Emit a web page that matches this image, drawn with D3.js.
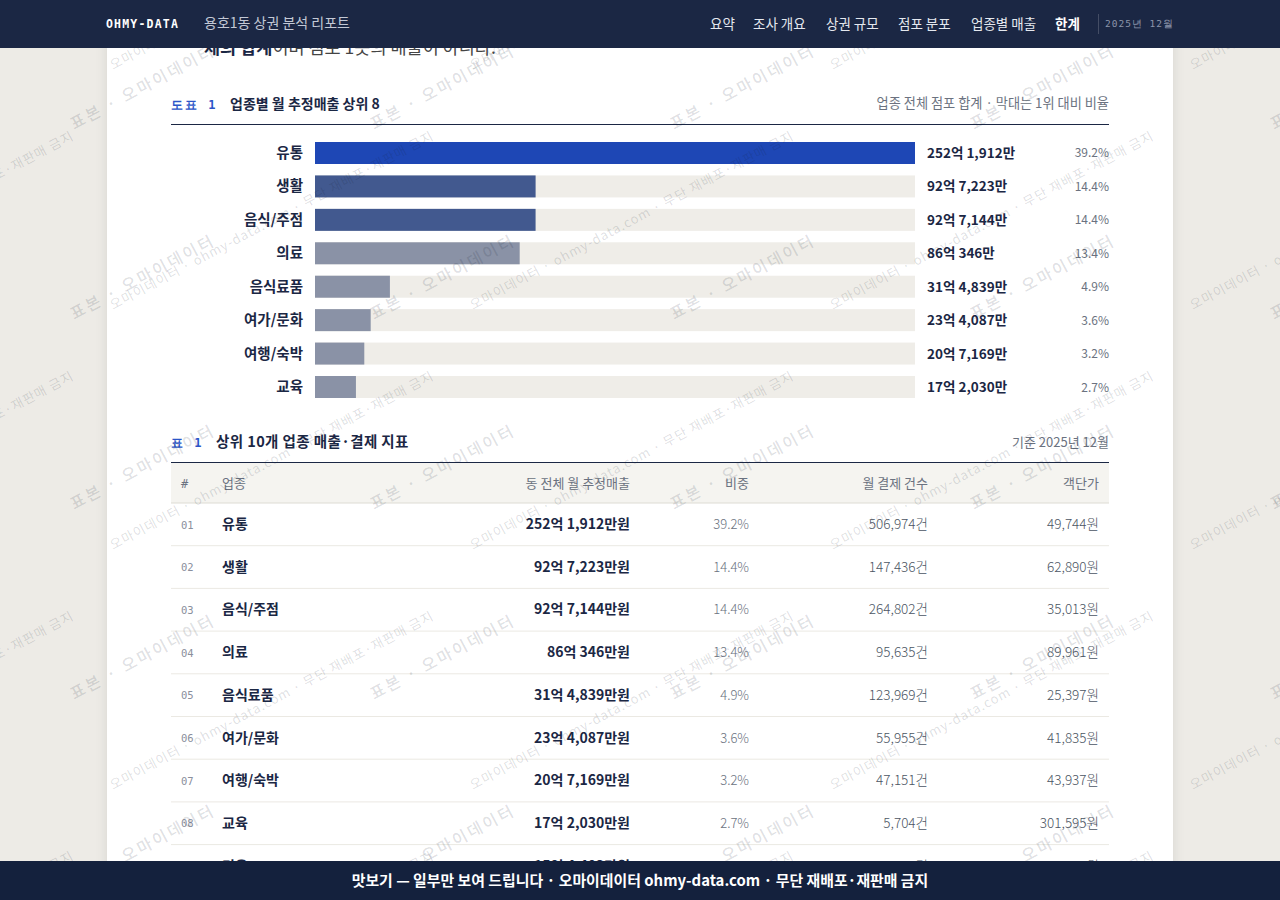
<!DOCTYPE html>
<html><head><meta charset="utf-8">
<script src="https://cdn.jsdelivr.net/npm/d3@7/dist/d3.min.js"></script>
<style>
html,body{margin:0;padding:0;background:#edebe6;overflow:hidden}
svg{display:block}
text{font-family:"Noto Sans CJK KR","Noto Sans",sans-serif}
.mono{font-family:"DejaVu Sans Mono",monospace}
</style></head><body>
<svg id="c" width="1280" height="900"></svg>
<script>
// ---------- data ----------
const navItems = ["요약", "조사 개요", "상권 규모", "점포 분포", "업종별 매출", "한계"];
const barCategories = ["유통", "생활", "음식/주점", "의료", "음식료품", "여가/문화", "여행/숙박", "교육"];
const barValuesMan = [2521912, 927223, 927144, 860346, 314839, 234087, 207169, 172030]; // 만원
const barShares = [39.2, 14.4, 14.4, 13.4, 4.9, 3.6, 3.2, 2.7];

const tableHeaders = ["#", "업종", "동 전체 월 추정매출", "비중", "월 결제 건수", "객단가"];
const tableCategories = ["유통", "생활", "음식/주점", "의료", "음식료품", "여가/문화", "여행/숙박", "교육", "미용"];
const tableSalesMan = [2521912, 927223, 927144, 860346, 314839, 234087, 207169, 172030, 154403];
const tableShares = [39.2, 14.4, 14.4, 13.4, 4.9, 3.6, 3.2, 2.7, 2.4];
const tableCounts = [506974, 147436, 264802, 95635, 123969, 55955, 47151, 5704, 21806];
const tablePrices = [49744, 62890, 35013, 89961, 25397, 41835, 43937, 301595, 70807];

const wmMain = "표본 · 오마이데이터";
const wmSub = "오마이데이터 · ohmy-data.com · 무단 재배포·재판매 금지";

// ---------- helpers ----------
const comma = d3.format(",");
const fmtEokMan = v => `${Math.floor(v / 10000)}억 ${comma(v % 10000)}만`;

const svg = d3.select("#c");
const NAVY = "#1b2744", INK = "#1b2744", MUTED = "#6b7280";

// background + page
const defs = svg.append("defs");
const f = defs.append("filter").attr("id", "sh").attr("x", "-5%").attr("y", "-5%").attr("width", "110%").attr("height", "110%");
f.append("feDropShadow").attr("dx", 0).attr("dy", 0).attr("stdDeviation", 6).attr("flood-color", "#000").attr("flood-opacity", 0.10);
svg.append("rect").attr("width", 1280).attr("height", 900).attr("fill", "#edebe6");
svg.append("rect").attr("x", 107).attr("y", -20).attr("width", 1066).attr("height", 940).attr("fill", "#fff").attr("filter", "url(#sh)");

// intro text partially under header
const intro = svg.append("text").attr("x", 204).attr("y", 54).attr("font-size", 17.5).attr("fill", "#444");
intro.append("tspan").attr("font-weight", 700).attr("fill", INK).text("체의 합계");
intro.append("tspan").text("이며 점포 1곳의 매출이 아니다.");

// ---------- chart ----------
const L = 171, R = 1109;
svg.append("text").attr("class", "mono").attr("x", L).attr("y", 109).attr("font-size", 12).attr("font-weight", 700)
  .attr("letter-spacing", 2).attr("fill", "#2b55c8").text("도표 1");
svg.append("text").attr("x", 230).attr("y", 109).attr("font-size", 14).attr("font-weight", 700).attr("fill", INK).text("업종별 월 추정매출 상위 8");
svg.append("text").attr("x", R).attr("y", 108).attr("text-anchor", "end").attr("font-size", 13.2).attr("fill", MUTED)
  .text("업종 전체 점포 합계 · 막대는 1위 대비 비율");
svg.append("line").attr("x1", L).attr("x2", R).attr("y1", 124.5).attr("y2", 124.5).attr("stroke", NAVY).attr("stroke-width", 1.2);

const yBar = d3.scaleBand().domain(barCategories).range([142, 398]).paddingInner(0.342).paddingOuter(0);
const xBar = d3.scaleLinear().domain([0, d3.max(barValuesMan)]).range([315, 915]);
const barColor = i => i === 0 ? "#1e47b5" : (i < 3 ? "#42598f" : "#8a92a6");

const rows = svg.append("g").selectAll("g").data(barCategories).join("g");
rows.append("rect").attr("x", xBar(0)).attr("y", d => yBar(d)).attr("width", xBar.range()[1] - xBar(0))
  .attr("height", yBar.bandwidth()).attr("fill", "#efede8");
rows.append("rect").attr("x", xBar(0)).attr("y", d => yBar(d))
  .attr("width", (d, i) => xBar(barValuesMan[i]) - xBar(0)).attr("height", yBar.bandwidth()).attr("fill", (d, i) => barColor(i));
rows.append("text").attr("x", 303).attr("y", d => yBar(d) + yBar.bandwidth() / 2 + 5).attr("text-anchor", "end")
  .attr("font-size", 14.5).attr("font-weight", 600).attr("fill", INK).text(d => d);
rows.append("text").attr("x", 927).attr("y", d => yBar(d) + yBar.bandwidth() / 2 + 5)
  .attr("font-size", 13.5).attr("font-weight", 700).attr("fill", INK).text((d, i) => fmtEokMan(barValuesMan[i]));
rows.append("text").attr("x", R).attr("y", d => yBar(d) + yBar.bandwidth() / 2 + 4.5).attr("text-anchor", "end")
  .attr("font-size", 12).attr("fill", MUTED).text((d, i) => barShares[i].toFixed(1) + "%");

// ---------- table ----------
svg.append("text").attr("class", "mono").attr("x", L).attr("y", 447).attr("font-size", 12).attr("font-weight", 700)
  .attr("letter-spacing", 2).attr("fill", "#2b55c8").text("표 1");
svg.append("text").attr("x", 216).attr("y", 447).attr("font-size", 14.5).attr("letter-spacing", 0.4).attr("font-weight", 700)
  .attr("fill", INK).text("상위 10개 업종 매출·결제 지표");
svg.append("text").attr("x", R).attr("y", 447).attr("text-anchor", "end").attr("font-size", 13).attr("fill", MUTED).text("기준 2025년 12월");
svg.append("line").attr("x1", L).attr("x2", R).attr("y1", 462.5).attr("y2", 462.5).attr("stroke", NAVY).attr("stroke-width", 1.2);
svg.append("rect").attr("x", L).attr("y", 463).attr("width", R - L).attr("height", 40).attr("fill", "#f5f4f0");
svg.append("line").attr("x1", L).attr("x2", R).attr("y1", 503).attr("y2", 503).attr("stroke", "#dddbd4").attr("stroke-width", 1.2);

const colX = [181, 222, 630, 749, 928, 1099];
const colAnchor = ["start", "start", "end", "end", "end", "end"];
svg.append("g").selectAll("text").data(tableHeaders).join("text")
  .attr("class", (d, i) => i === 0 ? "mono" : null)
  .attr("x", (d, i) => colX[i]).attr("y", 488).attr("text-anchor", (d, i) => colAnchor[i])
  .attr("font-size", (d, i) => i === 0 ? 12 : 13).attr("fill", MUTED).text(d => d);

const yRow = d3.scaleBand().domain(d3.range(tableCategories.length)).range([503, 503 + 42.7 * tableCategories.length]);
const trs = svg.append("g").selectAll("g").data(tableCategories).join("g")
  .attr("transform", (d, i) => `translate(0,${yRow(i)})`);
trs.append("line").attr("x1", L).attr("x2", R).attr("y1", yRow.bandwidth()).attr("y2", yRow.bandwidth())
  .attr("stroke", "#ebe9e3").attr("stroke-width", 1);
trs.append("text").attr("class", "mono").attr("x", colX[0]).attr("y", 25.5).attr("font-size", 10.5).attr("fill", "#8a8f9c")
  .text((d, i) => String(i + 1).padStart(2, "0"));
trs.append("text").attr("x", colX[1]).attr("y", 26).attr("font-size", 14).attr("font-weight", 700).attr("fill", INK).text(d => d);
trs.append("text").attr("x", colX[2]).attr("y", 26).attr("text-anchor", "end").attr("font-size", 14).attr("font-weight", 700)
  .attr("fill", INK).text((d, i) => fmtEokMan(tableSalesMan[i]) + "원");
trs.append("text").attr("x", colX[3]).attr("y", 26).attr("text-anchor", "end").attr("font-size", 13).attr("font-weight", 300)
  .attr("fill", MUTED).text((d, i) => tableShares[i].toFixed(1) + "%");
trs.append("text").attr("x", colX[4]).attr("y", 26).attr("text-anchor", "end").attr("font-size", 13.5).attr("font-weight", 300)
  .attr("fill", "#4b5563").text((d, i) => comma(tableCounts[i]) + "건");
trs.append("text").attr("x", colX[5]).attr("y", 26).attr("text-anchor", "end").attr("font-size", 13.5).attr("font-weight", 300)
  .attr("fill", "#4b5563").text((d, i) => comma(tablePrices[i]) + "원");

// ---------- watermark ----------
const wm = svg.append("g").attr("pointer-events", "none").attr("fill", "rgba(20,30,50,0.15)");
const wm1 = [];
for (let i = -1; i <= 4; i++) for (let j = 0; j <= 4; j++) wm1.push([74 + 300 * i, 130 + 190 * j]);
wm.selectAll("text.w1").data(wm1).join("text").attr("class", "w1")
  .attr("x", d => d[0]).attr("y", d => d[1]).attr("transform", d => `rotate(-28,${d[0]},${d[1]})`)
  .attr("font-size", 16).attr("font-weight", 500).attr("letter-spacing", 2.5).text(wmMain);
const wm2 = [];
for (let i = -1; i <= 3; i++) for (let j = 0; j <= 4; j++) wm2.push([113 + 360 * i, 70 + 240 * j]);
wm.selectAll("text.w2").data(wm2).join("text").attr("class", "w2")
  .attr("x", d => d[0]).attr("y", d => d[1]).attr("transform", d => `rotate(-28,${d[0]},${d[1]})`)
  .attr("font-size", 13).attr("letter-spacing", 1).text(wmSub);

// ---------- header ----------
svg.append("rect").attr("width", 1280).attr("height", 48).attr("fill", "#1b2744");
svg.append("text").attr("class", "mono").attr("x", 106).attr("y", 28).attr("font-size", 11.5).attr("font-weight", 700)
  .attr("letter-spacing", 1.2).attr("fill", "#fff").text("OHMY-DATA");
svg.append("text").attr("x", 204).attr("y", 28).attr("font-size", 14).attr("fill", "#c3c9d6").text("용호1동 상권 분석 리포트");
const navX = [710, 753, 826, 898, 971, 1055];
svg.append("g").selectAll("text").data(navItems).join("text")
  .attr("x", (d, i) => navX[i]).attr("y", 29).attr("font-size", 13.5)
  .attr("font-weight", (d, i) => i === navItems.length - 1 ? 700 : 400)
  .attr("fill", (d, i) => i === navItems.length - 1 ? "#fff" : "#e4e8ef").text(d => d);
svg.append("line").attr("x1", 1098.5).attr("x2", 1098.5).attr("y1", 14).attr("y2", 34).attr("stroke", "rgba(255,255,255,0.18)");
svg.append("text").attr("class", "mono").attr("x", 1105).attr("y", 27).attr("font-size", 9.5).attr("letter-spacing", 1)
  .attr("fill", "#8c95aa").text("2025년 12월");

// ---------- footer ----------
svg.append("rect").attr("y", 861).attr("width", 1280).attr("height", 39).attr("fill", "#14213d");
svg.append("text").attr("x", 640).attr("y", 886).attr("text-anchor", "middle").attr("font-size", 14.9).attr("font-weight", 700)
  .attr("fill", "#fff").text("맛보기 — 일부만 보여 드립니다 · 오마이데이터 ohmy-data.com · 무단 재배포·재판매 금지");
</script></body></html>
